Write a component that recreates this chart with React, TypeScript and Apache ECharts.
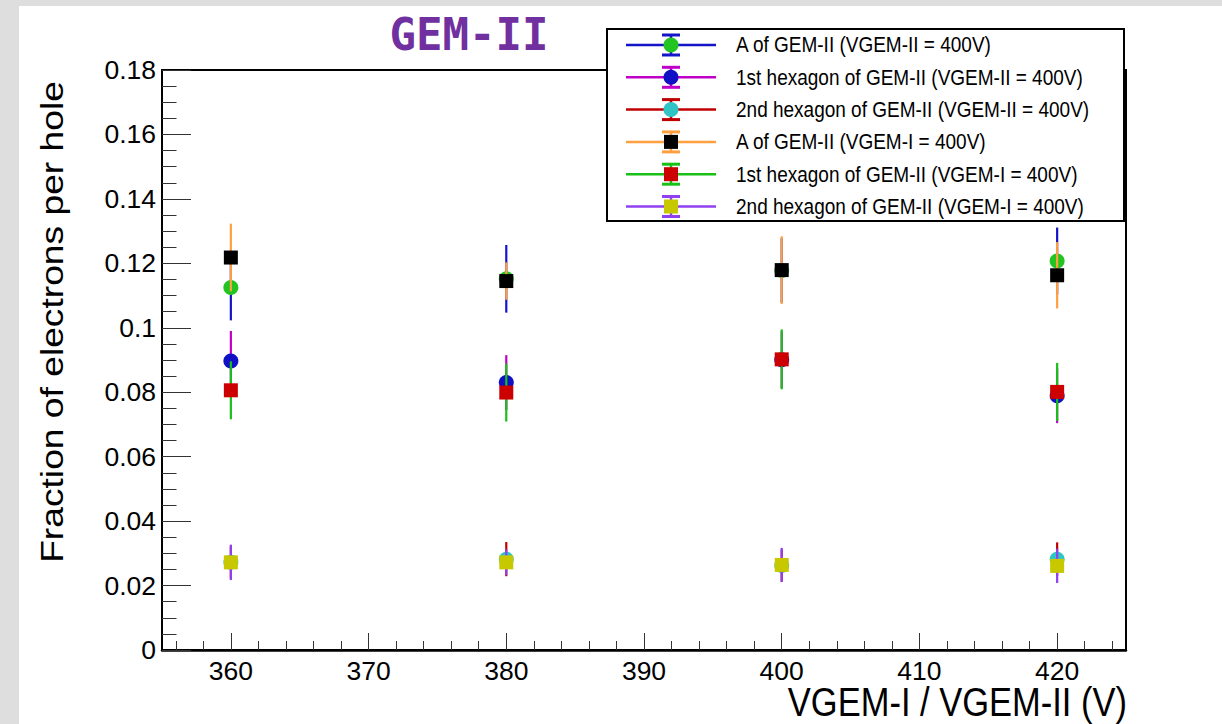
import React, { useEffect, useRef } from "react";
import * as echarts from "echarts";

// ---------- data ----------
const X_VALUES = [360, 380, 400, 420];

const SERIES_NAMES = [
  "A of GEM-II (VGEM-II = 400V)",
  "1st hexagon of GEM-II (VGEM-II = 400V)",
  "2nd hexagon of GEM-II (VGEM-II = 400V)",
  "A of GEM-II (VGEM-I = 400V)",
  "1st hexagon of GEM-II (VGEM-I = 400V)",
  "2nd hexagon of GEM-II (VGEM-I = 400V)",
];

const A_VII_VALUES = [0.1125, 0.1152, 0.1178, 0.1207];
const A_VII_ERRORS = [0.0102, 0.0105, 0.01, 0.0104];
const HEX1_VII_VALUES = [0.0897, 0.083, 0.0901, 0.0789];
const HEX1_VII_ERRORS = [0.0093, 0.0085, 0.0088, 0.0085];
const HEX2_VII_VALUES = [0.0272, 0.0282, 0.0262, 0.0282];
const HEX2_VII_ERRORS = [0.005, 0.0053, 0.005, 0.0052];
const A_VI_VALUES = [0.1218, 0.1145, 0.1179, 0.1163];
const A_VI_ERRORS = [0.0105, 0.0058, 0.0105, 0.0103];
const HEX1_VI_VALUES = [0.0806, 0.0799, 0.0902, 0.0801];
const HEX1_VI_ERRORS = [0.009, 0.009, 0.0093, 0.009];
const HEX2_VI_VALUES = [0.0272, 0.0272, 0.0264, 0.0261];
const HEX2_VI_ERRORS = [0.0055, 0.004, 0.0053, 0.0053];

const X_MAJOR_TICKS = [360, 370, 380, 390, 400, 410, 420];
const Y_TICKS = [0, 0.02, 0.04, 0.06, 0.08, 0.1, 0.12, 0.14, 0.16, 0.18];

const TITLE = "GEM-II";
const X_TITLE = "VGEM-I / VGEM-II (V)";
const Y_TITLE = "Fraction of electrons per hole";

// ---------- styles ----------
const LINE_COLORS = ["#1414c8", "#c000c8", "#c00000", "#ffa040", "#18c018", "#9040f0"];
const MARKER_COLORS = ["#22c422", "#1010c4", "#30c4c4", "#000000", "#cc0000", "#c8c800"];
const MARKER_SHAPES = ["circle", "circle", "circle", "square", "square", "square"];

const VALUES = [A_VII_VALUES, HEX1_VII_VALUES, HEX2_VII_VALUES, A_VI_VALUES, HEX1_VI_VALUES, HEX2_VI_VALUES];
const ERRORS = [A_VII_ERRORS, HEX1_VII_ERRORS, HEX2_VII_ERRORS, A_VI_ERRORS, HEX1_VI_ERRORS, HEX2_VI_ERRORS];

const FONT = "Liberation Sans, Arial, sans-serif";

function markerElement(shape: string, cx: number, cy: number, fill: string) {
  if (shape === "circle") {
    return { type: "circle", shape: { cx, cy, r: 7.5 }, style: { fill } };
  }
  return { type: "rect", shape: { x: cx - 7, y: cy - 7, width: 14, height: 14 }, style: { fill } };
}

export default function App() {
  const ref = useRef<HTMLDivElement>(null);

  useEffect(() => {
    if (!ref.current) return;
    const chart = echarts.init(ref.current, undefined, { renderer: "svg" });

    const minorX: number[] = [];
    for (let v = 356; v <= 424; v += 2) if (v % 10 !== 0) minorX.push(v);

    const series = SERIES_NAMES.map((name, si) => ({
      type: "custom",
      name,
      xAxisIndex: 0,
      yAxisIndex: 0,
      clip: false,
      data: X_VALUES.map((x, i) => [x, VALUES[si][i], ERRORS[si][i]]),
      renderItem: (_params: any, api: any) => {
        const x = api.value(0);
        const y = api.value(1);
        const e = api.value(2);
        const c = api.coord([x, y]);
        const top = api.coord([x, y + e]);
        const bot = api.coord([x, y - e]);
        return {
          type: "group",
          children: [
            {
              type: "line",
              shape: { x1: c[0], y1: top[1], x2: c[0], y2: bot[1] },
              style: { stroke: LINE_COLORS[si], lineWidth: 2.2 },
            },
            markerElement(MARKER_SHAPES[si], c[0], c[1], MARKER_COLORS[si]),
          ],
        };
      },
    }));

    // legend drawn as graphic
    const legendChildren: any[] = [
      {
        type: "rect",
        shape: { x: 607, y: 29, width: 517, height: 192 },
        style: { fill: "#ffffff", stroke: "#000000", lineWidth: 2 },
      },
    ];
    SERIES_NAMES.forEach((name, i) => {
      const cy = 45 + 32.3 * i;
      const cx = 671;
      legendChildren.push(
        { type: "line", shape: { x1: 626, y1: cy, x2: 716, y2: cy }, style: { stroke: LINE_COLORS[i], lineWidth: 2.5 } },
        { type: "line", shape: { x1: cx - 9, y1: cy - 10, x2: cx + 9, y2: cy - 10 }, style: { stroke: LINE_COLORS[i], lineWidth: 3 } },
        { type: "line", shape: { x1: cx - 9, y1: cy + 10, x2: cx + 9, y2: cy + 10 }, style: { stroke: LINE_COLORS[i], lineWidth: 3 } },
        { type: "line", shape: { x1: cx, y1: cy - 10, x2: cx, y2: cy + 10 }, style: { stroke: LINE_COLORS[i], lineWidth: 2.5 } },
        markerElement(MARKER_SHAPES[i], cx, cy, MARKER_COLORS[i]),
        {
          type: "text",
          x: 736,
          y: cy,
          scaleY: 1.13,
          style: {
            text: name,
            fontSize: 19,
            fontFamily: FONT,
            fill: "#000",
            align: "left",
            verticalAlign: "middle",
            textAlign: "left",
            textVerticalAlign: "middle",
          },
        }
      );
    });

    chart.setOption({
      animation: false,
      backgroundColor: "#dedede",
      grid: {
        left: 162,
        top: 70,
        right: 96,
        bottom: 74,
        show: true,
        borderColor: "#000",
        borderWidth: 2,
        backgroundColor: "transparent",
      },
      xAxis: [
        {
          type: "value",
          min: 355,
          max: 425,
          position: "bottom",
          axisLine: { show: true, onZero: false, lineStyle: { color: "#000", width: 2.5 } },
          axisTick: { show: true, inside: true, length: 17, customValues: X_MAJOR_TICKS, lineStyle: { color: "#333", width: 1 } },
          axisLabel: {
            show: true,
            customValues: X_MAJOR_TICKS,
            margin: 7,
            fontSize: 26.5,
            fontFamily: FONT,
            color: "#000",
          },
          splitLine: { show: false },
        },
        {
          type: "value",
          min: 355,
          max: 425,
          position: "bottom",
          axisLine: { show: false },
          axisTick: { show: true, inside: true, length: 9, customValues: minorX, lineStyle: { color: "#333", width: 1 } },
          axisLabel: { show: false },
          splitLine: { show: false },
        },
      ],
      yAxis: {
        type: "value",
        min: 0,
        max: 0.18,
        interval: 0.02,
        axisLine: { show: true, onZero: false, lineStyle: { color: "#000", width: 2 } },
        axisTick: { show: true, inside: true, length: 29, lineStyle: { color: "#333", width: 1 } },
        minorTick: { show: true, splitNumber: 4, length: 14.5, lineStyle: { color: "#333", width: 1 } },
        axisLabel: {
          margin: 6,
          fontSize: 26.5,
          fontFamily: FONT,
          color: "#000",
          formatter: (v: number) => {
            const idx = Y_TICKS.findIndex((t) => Math.abs(t - v) < 1e-9);
            return idx >= 0 ? String(Y_TICKS[idx]) : "";
          },
        },
        splitLine: { show: false },
        minorSplitLine: { show: false },
      },
      graphic: [
        {
          type: "rect",
          z: -100,
          silent: true,
          shape: { x: 19, y: 6, width: 1203, height: 718 },
          style: { fill: "#ffffff" },
        },
        {
          type: "text",
          z: 100,
          x: 469,
          y: 34,
          style: {
            text: TITLE,
            fontSize: 44,
            fontWeight: "bold",
            fontFamily: "DejaVu Sans Mono, monospace",
            fill: "#7030a0",
            align: "center",
            verticalAlign: "middle",
            textAlign: "center",
            textVerticalAlign: "middle",
          },
        },
        {
          type: "text",
          z: 100,
          x: 52,
          y: 322,
          rotation: Math.PI / 2,
          scaleX: 1.2,
          style: {
            text: Y_TITLE,
            fontSize: 31,
            fontFamily: FONT,
            fill: "#000",
            align: "center",
            verticalAlign: "middle",
            textAlign: "center",
            textVerticalAlign: "middle",
          },
        },
        {
          type: "text",
          z: 100,
          x: 1127,
          y: 702,
          scaleY: 1.2,
          style: {
            text: X_TITLE,
            fontSize: 34.5,
            fontFamily: FONT,
            fill: "#000",
            align: "right",
            verticalAlign: "middle",
            textAlign: "right",
            textVerticalAlign: "middle",
          },
        },
        {
          type: "group",
          z: 100,
          children: legendChildren,
        },
      ],
      series,
    });

    return () => chart.dispose();
  }, []);

  return (
    <div
      ref={ref}
      style={{ position: "fixed", left: 0, top: 0, width: 1222, height: 724 }}
    />
  );
}
